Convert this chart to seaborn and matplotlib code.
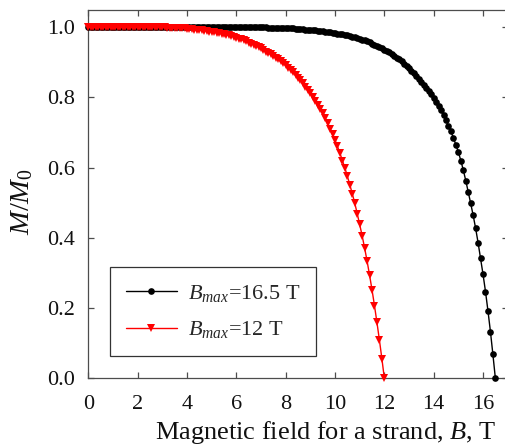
import numpy as np
import pandas as pd
import matplotlib
matplotlib.use("Agg")
import matplotlib.pyplot as plt
import seaborn as sns

# Normalised magnetisation M/M0 versus strand field B (0.1 T steps)
field_165 = np.round(np.linspace(0.0, 16.5, 166), 1)
m_165 = ([1.000] * 63 + [0.999] * 10 + [0.998] * 5 +
         [0.997, 0.997, 0.997, 0.997, 0.996, 0.996, 0.995, 0.995, 0.995, 0.994,
          0.993, 0.993, 0.992, 0.992,
          0.991, 0.990, 0.989, 0.988, 0.987, 0.986, 0.985, 0.984,
          0.982, 0.981, 0.980, 0.979, 0.977, 0.976, 0.974, 0.973, 0.971, 0.969,
          0.967, 0.964, 0.962, 0.959, 0.957, 0.953, 0.950, 0.947, 0.943, 0.940,
          0.936, 0.932, 0.928, 0.923, 0.918, 0.913, 0.908, 0.902, 0.896, 0.890,
          0.883, 0.876, 0.869, 0.861, 0.853, 0.845, 0.836, 0.827, 0.818, 0.808,
          0.798, 0.786, 0.775, 0.763, 0.749, 0.734, 0.719, 0.703, 0.684, 0.665,
          0.644, 0.620, 0.593, 0.563, 0.531, 0.498, 0.464, 0.427, 0.386, 0.342,
          0.296, 0.247, 0.192, 0.133, 0.068, 0.000])

field_12 = np.round(np.linspace(0.0, 12.0, 121), 1)
m_12 = ([1.000] * 30 +
        [0.999, 0.999, 0.998, 0.998, 0.998, 0.997, 0.997, 0.997, 0.996, 0.996,
         0.995, 0.995, 0.994, 0.993, 0.992, 0.991, 0.991, 0.990, 0.989, 0.987,
         0.986, 0.985, 0.984, 0.982, 0.981, 0.979, 0.978, 0.976, 0.974, 0.972,
         0.970, 0.967, 0.965, 0.962, 0.960, 0.956, 0.953, 0.950, 0.946, 0.943,
         0.939, 0.935, 0.930, 0.926, 0.922, 0.918, 0.913, 0.908, 0.902, 0.897,
         0.891, 0.884, 0.878, 0.871, 0.863, 0.856, 0.848, 0.840, 0.830, 0.821,
         0.812, 0.801, 0.790, 0.779, 0.767, 0.754, 0.741, 0.726, 0.711, 0.695,
         0.678, 0.660, 0.641, 0.620, 0.599, 0.576, 0.551, 0.526, 0.499, 0.469,
         0.438, 0.406, 0.371, 0.334, 0.294, 0.252, 0.207, 0.159, 0.109, 0.056,
         0.000])

series_labels = [r"$B_{max}$=16.5 T", r"$B_{max}$=12 T"]
x_ticks = [0, 2, 4, 6, 8, 10, 12, 14, 16]
y_ticks = [0.0, 0.2, 0.4, 0.6, 0.8, 1.0]

sns.set_theme(style="ticks")
plt.rcParams["font.family"] = ["Liberation Serif", "DejaVu Serif"]
plt.rcParams["mathtext.fontset"] = "custom"
plt.rcParams["mathtext.rm"] = "Liberation Serif"
plt.rcParams["mathtext.it"] = "Liberation Serif:italic"

fig = plt.figure(figsize=(5.06, 4.47), dpi=100)
ax = fig.add_axes([88.3 / 506, (447 - 378.3) / 447, 419.4 / 506, 368.8 / 447])

df_a = pd.DataFrame({"B": field_165, "M": m_165})
df_b = pd.DataFrame({"B": field_12, "M": m_12})

sns.lineplot(data=df_a, x="B", y="M", ax=ax, color="black", lw=1.0,
             marker="o", markersize=4.8, markeredgewidth=0, sort=False,
             estimator=None, label=series_labels[0], clip_on=False, zorder=3)
sns.lineplot(data=df_b, x="B", y="M", ax=ax, color="#ff0000", lw=1.0,
             marker="v", markersize=5.6, markeredgewidth=0, sort=False,
             estimator=None, label=series_labels[1], clip_on=False, zorder=4)

ax.set_xlim(0, 17)
ax.set_ylim(0, 1.05)
ax.set_xticks(x_ticks)
ax.set_yticks(y_ticks)
ax.set_yticklabels([f"{v:.1f}" for v in y_ticks])

spine_col = "#4d4d4d"
for s in ax.spines.values():
    s.set_color(spine_col)
    s.set_linewidth(0.9)
ax.tick_params(direction="in", top=True, right=True, length=4, width=0.9,
               color=spine_col, labelsize=16, labelcolor="#111111")
ax.tick_params(axis="x", pad=12)
ax.tick_params(axis="y", pad=9.5)

ax.set_xlabel("Magnetic field for a strand, $B$, T", fontsize=19,
              color="#111111")
ax.xaxis.set_label_coords(0.566, -0.110)
ax.set_ylabel("$M$/$M_0$", fontsize=20.5, color="#111111")
ax.yaxis.set_label_coords(-0.128, 0.478)

leg = ax.legend(loc="lower left", bbox_to_anchor=(0.052, 0.0605),
                borderaxespad=0, fontsize=16, frameon=True, fancybox=False,
                handlelength=2.3, handletextpad=0.5, borderpad=0.7,
                labelspacing=0.7, numpoints=1)
leg.get_frame().set_edgecolor("#333333")
leg.get_frame().set_linewidth(0.9)
leg.get_frame().set_facecolor("white")
leg.get_frame().set_alpha(1)

fig.savefig("out.png", dpi=100, facecolor="white")
